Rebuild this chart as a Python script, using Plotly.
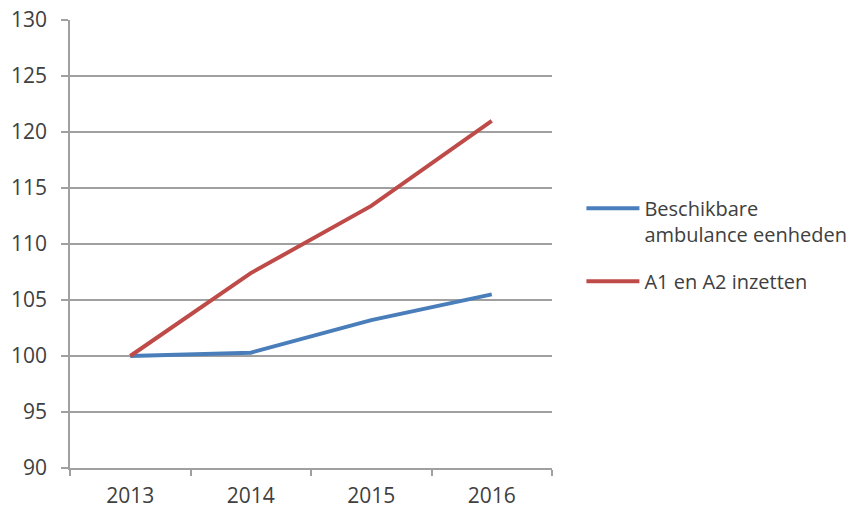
import plotly.graph_objects as go

years = ["2013", "2014", "2015", "2016"]
beschikbaar = [100.0, 100.3, 103.2, 105.5]
inzetten = [100.0, 107.4, 113.4, 121.0]
y_ticks = [90, 95, 100, 105, 110, 115, 120, 125, 130]

font_family = "Open Sans, DejaVu Sans, sans-serif"
text_color = "#404040"
axis_gray = "#A0A0A0"

fig = go.Figure()
fig.add_trace(go.Scatter(x=years, y=beschikbaar, mode="lines",
                         name="Beschikbare<br>ambulance eenheden",
                         legendgroup="g1",
                         line=dict(color="#4A7EBB", width=4)))
fig.add_trace(go.Scatter(x=years, y=inzetten, mode="lines",
                         name="A1 en A2 inzetten",
                         legendgroup="g2",
                         line=dict(color="#BE4B48", width=4)))

fig.update_layout(
    width=862, height=509,
    margin=dict(l=70, r=310, t=20, b=41, autoexpand=False),
    paper_bgcolor="white", plot_bgcolor="white",
    font=dict(family=font_family, size=21, color=text_color),
    legend=dict(xref="container", yref="container",
                x=0.6745, xanchor="left", y=0.629, yanchor="top",
                font=dict(size=20, color=text_color),
                tracegroupgap=18, itemwidth=53, valign="top"),
    showlegend=True,
)
fig.update_xaxes(type="category", range=[-0.5, 3.5], tickson="boundaries",
                 ticks="outside", ticklen=6, tickcolor=axis_gray, tickwidth=1.5,
                 showline=True, linecolor=axis_gray, linewidth=1.5,
                 showgrid=False, zeroline=False, ticklabelstandoff=8,
                 automargin=False, ticklabeloverflow="allow")
fig.update_yaxes(range=[90, 130], tickvals=y_ticks,
                 ticks="outside", ticklen=7, tickcolor=axis_gray, tickwidth=1.5,
                 showline=True, linecolor=axis_gray, linewidth=1.5,
                 showgrid=True, gridcolor=axis_gray, gridwidth=1.5,
                 zeroline=False, ticklabelstandoff=10,
                 automargin=False, ticklabeloverflow="allow")

fig.write_html("out.html",
               config={"displayModeBar": False},
               post_script="document.body.style.margin='0px';")
